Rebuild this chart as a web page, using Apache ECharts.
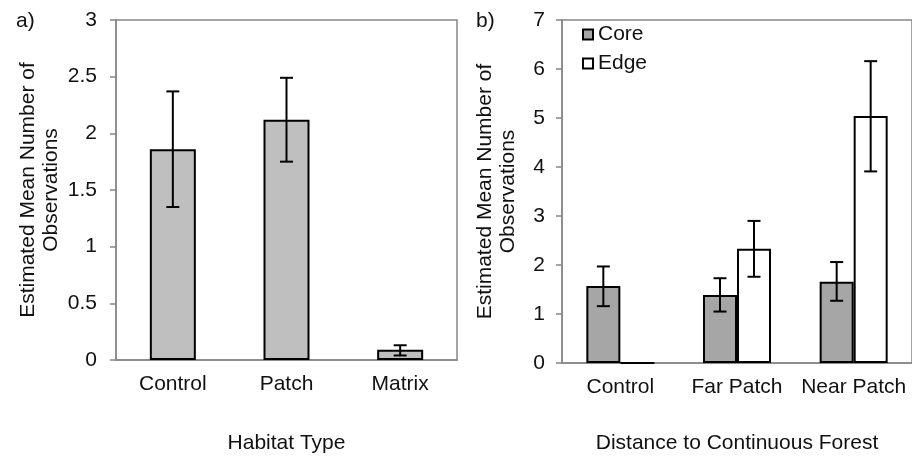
<!DOCTYPE html>
<html>
<head>
<meta charset="utf-8">
<script src="https://cdn.jsdelivr.net/npm/echarts@6/dist/echarts.min.js"></script>
<style>
  html, body { margin: 0; padding: 0; background: #fff; }
  #chart { width: 912px; height: 463px; }
</style>
</head>
<body>
<div id="chart"></div>
<script>
// panel a) habitat type
var habitatCats = ['Control', 'Patch', 'Matrix']
var habitatMean = [1.86, 2.12, 0.09]
var habitatLow = [1.35, 1.75, 0.04]
var habitatHigh = [2.37, 2.49, 0.13]

// panel b) distance to continuous forest
var distCats = ['Control', 'Far Patch', 'Near Patch']
var coreMean = [1.57, 1.39, 1.66]
var coreLow = [1.16, 1.05, 1.27]
var coreHigh = [1.97, 1.73, 2.06]
var edgeMean = [0, 2.33, 5.04]
var edgeLow = [null, 1.76, 3.91]
var edgeHigh = [null, 2.9, 6.16]

var fontFam = '"Liberation Sans", Arial, sans-serif'
var fs = 21
var axisGray = '#878787'

function errData (low, high) {
  var out = []
  for (var i = 0; i < low.length; i++) {
    if (low[i] !== null) out.push([i, low[i], high[i]])
  }
  return out
}

// 画误差线
function errRender (offset) {
  return function (params, api) {
    var i = api.value(0)
    var lo = api.coord([i, api.value(1)])
    var hi = api.coord([i, api.value(2)])
    var x = lo[0] + offset
    var cap = 6.5
    var st = { stroke: '#000', lineWidth: 2 }
    return {
      type: 'group',
      children: [
        { type: 'line', shape: { x1: x, y1: lo[1], x2: x, y2: hi[1] }, style: st },
        { type: 'line', shape: { x1: x - cap, y1: lo[1], x2: x + cap, y2: lo[1] }, style: st },
        { type: 'line', shape: { x1: x - cap, y1: hi[1], x2: x + cap, y2: hi[1] }, style: st }
      ]
    }
  }
}

function catAxis (idx, cats, title, gap) {
  return {
    type: 'category',
    gridIndex: idx,
    data: cats,
    name: title,
    nameLocation: 'middle',
    nameGap: gap,
    nameTextStyle: { fontFamily: fontFam, fontSize: fs, color: '#111' },
    axisLine: { lineStyle: { color: axisGray, width: 1.5 } },
    axisTick: { length: 6, lineStyle: { color: axisGray, width: 1.5 } },
    axisLabel: { fontFamily: fontFam, fontSize: fs, color: '#111', margin: 14, interval: 0 }
  }
}

function valAxis (idx, max, step, gap, labelGap) {
  return {
    type: 'value',
    gridIndex: idx,
    min: 0,
    max: max,
    interval: step,
    name: 'Estimated Mean Number of\nObservations',
    nameLocation: 'middle',
    nameGap: gap,
    nameTextStyle: { fontFamily: fontFam, fontSize: fs, color: '#111', lineHeight: 23 },
    axisLine: { show: true, lineStyle: { color: axisGray, width: 1.5 } },
    axisTick: { show: true, length: 6, lineStyle: { color: axisGray, width: 1.5 } },
    axisLabel: { fontFamily: fontFam, fontSize: fs, color: '#111', margin: labelGap },
    splitLine: { show: false }
  }
}

var myChart = echarts.init(document.getElementById('chart'))

var option = {
  animation: false,
  backgroundColor: '#fff',
  title: [
    { text: 'a)', left: 11, top: 6, textStyle: { fontFamily: fontFam, fontSize: fs, fontWeight: 'normal', color: '#111' } },
    { text: 'b)', left: 471, top: 6, textStyle: { fontFamily: fontFam, fontSize: fs, fontWeight: 'normal', color: '#111' } }
  ],
  legend: {
    left: 577,
    top: 19,
    orient: 'vertical',
    icon: 'rect',
    itemWidth: 10,
    itemHeight: 10,
    itemGap: 8,
    textStyle: { fontFamily: fontFam, fontSize: fs, color: '#111' },
    data: ['Core', 'Edge']
  },
  grid: [
    { left: 116, top: 20, width: 341, height: 340, show: true, borderColor: axisGray, borderWidth: 1.5 },
    { left: 562, top: 20, width: 353, height: 343, show: true, borderColor: axisGray, borderWidth: 1.5 }
  ],
  xAxis: [
    catAxis(0, habitatCats, 'Habitat Type', 73),
    catAxis(1, distCats, 'Distance to Continuous Forest', 70)
  ],
  yAxis: [
    valAxis(0, 3, 0.5, 53, 19),
    valAxis(1, 7, 1, 42, 17)
  ],
  series: [
    {
      name: 'Habitat',
      type: 'bar',
      xAxisIndex: 0,
      yAxisIndex: 0,
      barWidth: 46,
      data: habitatMean,
      itemStyle: { color: '#BFBFBF', borderColor: '#000', borderWidth: 2 }
    },
    {
      type: 'custom',
      xAxisIndex: 0,
      yAxisIndex: 0,
      z: 5,
      renderItem: errRender(0),
      data: errData(habitatLow, habitatHigh)
    },
    {
      name: 'Core',
      type: 'bar',
      xAxisIndex: 1,
      yAxisIndex: 1,
      barWidth: 34,
      barGap: '0%',
      data: coreMean,
      itemStyle: { color: '#A6A6A6', borderColor: '#000', borderWidth: 2 }
    },
    {
      name: 'Edge',
      type: 'bar',
      xAxisIndex: 1,
      yAxisIndex: 1,
      barWidth: 34,
      barGap: '0%',
      data: edgeMean,
      itemStyle: { color: '#FFFFFF', borderColor: '#000', borderWidth: 2 }
    },
    {
      type: 'custom',
      xAxisIndex: 1,
      yAxisIndex: 1,
      z: 5,
      renderItem: errRender(-17),
      data: errData(coreLow, coreHigh)
    },
    {
      type: 'custom',
      xAxisIndex: 1,
      yAxisIndex: 1,
      z: 5,
      renderItem: errRender(17),
      data: errData(edgeLow, edgeHigh)
    }
  ]
}

myChart.setOption(option)
</script>
</body>
</html>
